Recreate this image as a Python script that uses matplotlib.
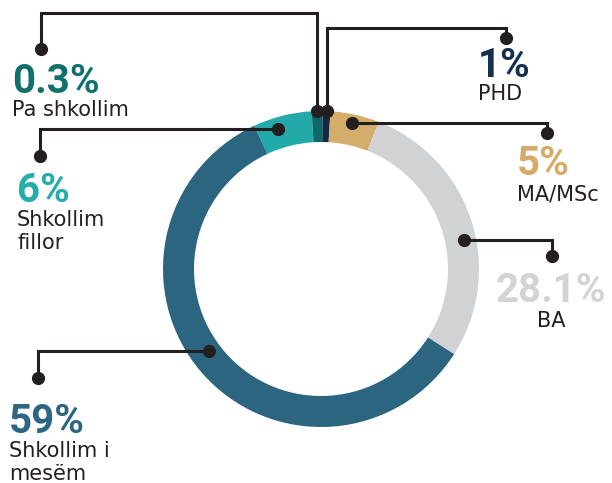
import matplotlib

matplotlib.use("Agg")

import matplotlib.pyplot as plt
import numpy as np

# ------------------------------------------------------------
# Data
# ------------------------------------------------------------
categories = ["Shkollim fillor", "Pa shkollim", "PHD", "MA/MSc", "BA", "Shkollim i mesëm"]
pct_labels = ["6%", "0.3%", "1%", "5%", "28.1%", "59%"]
# arc shares as drawn in the picture (the tiny slices are shown wider than their value)
arc_shares = [6.0, 1.1, 0.8, 5.0, 28.1, 59.0]
label_lines = [["Shkollim", "fillor"], ["Pa shkollim"], ["PHD"], ["MA/MSc"], ["BA"], ["Shkollim i", "mesëm"]]

slice_colors = ["#22aaa9", "#0c6a66", "#112a45", "#d4ad6b", "#d1d2d4", "#2c6580"]
value_colors = ["#23adab", "#11706b", "#14304c", "#d4ab67", "#d2d3d5", "#2c6682"]
TEXT = "#231f20"

# ------------------------------------------------------------
# Layout (pixel coordinates, y measured from the top)
# ------------------------------------------------------------
W, H = 612, 483
CX, CY = 321, 269
R_OUT, RING = 158, 31

# leader routes: ring anchor -> ... -> label dot
routes = [
    [(278, 129), (40, 129), (40, 156)],
    [(317, 111), (317, 13), (41, 13), (41, 49)],
    [(327, 111), (327, 28), (506, 28), (506, 38)],
    [(352, 123), (547, 123), (547, 133)],
    [(464, 240), (552, 240), (552, 256)],
    [(209, 351), (38, 351), (38, 378)],
]
# label positions: (x, baseline of value, baseline of first text line, alignment)
label_pos = [
    (17, 202, 226, "left"),
    (12, 93, 116, "left"),
    (478, 77, 100, "left"),
    (517, 175, 200, "left"),
    (551, 302, 327, "center"),
    (9, 433, 457, "left"),
]
LINE_STEP = 23


def py(y):
    return H - y


fig = plt.figure(figsize=(W / 100, H / 100), dpi=100)
ax = fig.add_axes([0, 0, 1, 1])

ax.pie(
    arc_shares,
    colors=slice_colors,
    radius=R_OUT,
    center=(CX, py(CY)),
    startangle=115,
    counterclock=False,
    wedgeprops=dict(width=RING, linewidth=0),
    frame=True,
)

for route in routes:
    xs = [p[0] for p in route]
    ys = [py(p[1]) for p in route]
    ax.plot(xs, ys, color=TEXT, linewidth=2.2, solid_capstyle="butt", solid_joinstyle="miter", zorder=3)
    ax.plot([xs[0], xs[-1]], [ys[0], ys[-1]], "o", color=TEXT, markersize=8.5, zorder=4)

for pct, lines, col, (x, yb_val, yb_txt, ha) in zip(pct_labels, label_lines, value_colors, label_pos):
    ax.text(x, py(yb_val), pct, color=col, fontsize=29, fontweight="bold",
            family="Roboto", ha=ha, va="baseline")
    for i, line in enumerate(lines):
        ax.text(x, py(yb_txt + i * LINE_STEP), line, color=TEXT, fontsize=15,
                family="DejaVu Sans", ha=ha, va="baseline")

ax.set_xlim(0, W)
ax.set_ylim(0, H)
ax.set_aspect("equal")
ax.axis("off")

fig.savefig("out.png", dpi=100, facecolor="white")
